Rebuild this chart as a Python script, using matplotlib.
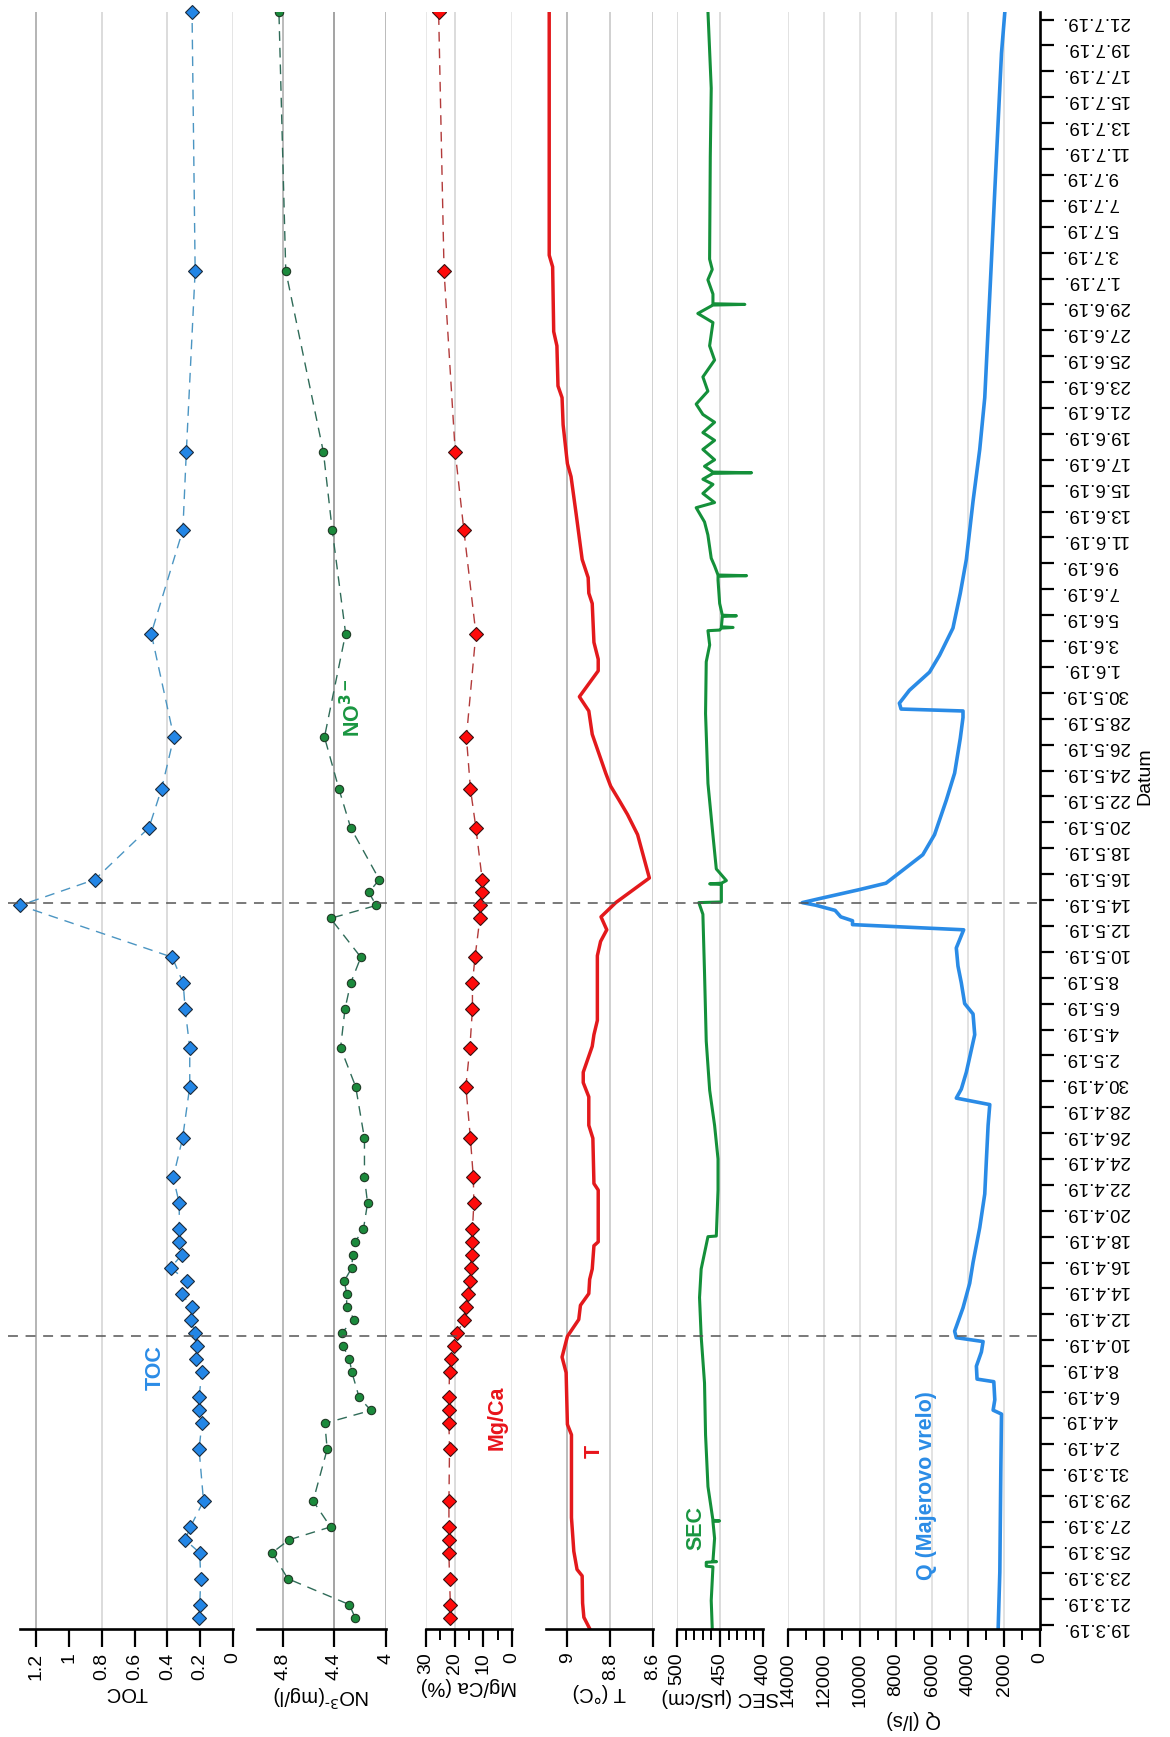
import numpy as np
import pandas as pd
import matplotlib
matplotlib.use("Agg")
import matplotlib.pyplot as plt
import matplotlib.dates as mdates
from matplotlib.ticker import FixedLocator, MultipleLocator, FuncFormatter
from matplotlib.transforms import blended_transform_factory

plt.rcParams['font.family'] = ['Liberation Sans', 'DejaVu Sans']

# ---- data ----
start = pd.Timestamp('2019-03-19')
end_sample = pd.Timestamp('2019-07-21 14:00')

# grab samples (TOC)
toc_dates = ['2019-03-19', '2019-03-20', '2019-03-22', '2019-03-24', '2019-03-25', '2019-03-26',
             '2019-03-28', '2019-04-01', '2019-04-03', '2019-04-04', '2019-04-05', '2019-04-07',
             '2019-04-08', '2019-04-09', '2019-04-10', '2019-04-11', '2019-04-12', '2019-04-13',
             '2019-04-14', '2019-04-15', '2019-04-16', '2019-04-17', '2019-04-18', '2019-04-20',
             '2019-04-22', '2019-04-25', '2019-04-29', '2019-05-02', '2019-05-05', '2019-05-07',
             '2019-05-09', '2019-05-13', '2019-05-15', '2019-05-19', '2019-05-22', '2019-05-26',
             '2019-06-03', '2019-06-11', '2019-06-17', '2019-07-01', '2019-07-21']
toc_vals = [0.207, 0.203, 0.197, 0.203, 0.292, 0.26, 0.18, 0.207, 0.19, 0.21,
            0.207, 0.19, 0.223, 0.219, 0.233, 0.257, 0.251, 0.314, 0.28, 0.381,
            0.314, 0.328, 0.328, 0.328, 0.365, 0.308, 0.264, 0.264, 0.292, 0.304,
            0.371, 1.30, 0.843, 0.513, 0.436, 0.361, 0.499, 0.306, 0.285, 0.231, 0.25]

# grab samples (NO3, Mg/Ca)
chem_dates = ['2019-03-19', '2019-03-20', '2019-03-22', '2019-03-24', '2019-03-25', '2019-03-26',
              '2019-03-28', '2019-04-01', '2019-04-03', '2019-04-04', '2019-04-05', '2019-04-07',
              '2019-04-08', '2019-04-09', '2019-04-10', '2019-04-11', '2019-04-12', '2019-04-13',
              '2019-04-14', '2019-04-15', '2019-04-16', '2019-04-17', '2019-04-18', '2019-04-20',
              '2019-04-22', '2019-04-25', '2019-04-29', '2019-05-02', '2019-05-05', '2019-05-07',
              '2019-05-09', '2019-05-12', '2019-05-13', '2019-05-14', '2019-05-15', '2019-05-19',
              '2019-05-22', '2019-05-26', '2019-06-03', '2019-06-11', '2019-06-17', '2019-07-01',
              '2019-07-21']
no3_vals = [4.24, 4.284, 4.761, 4.883, 4.753, 4.43, 4.565, 4.456, 4.474, 4.117,
            4.208, 4.266, 4.284, 4.336, 4.344, 4.245, 4.305, 4.305, 4.323, 4.266,
            4.258, 4.24, 4.175, 4.143, 4.167, 4.167, 4.235, 4.352, 4.318, 4.274,
            4.195, 4.43, 4.076, 4.133, 4.052, 4.274, 4.365, 4.477, 4.313, 4.417,
            4.485, 4.777, 4.83]
mgca_vals = [21.5, 21.5, 21.8, 22, 22, 22, 22, 21.8, 22, 22,
             22, 21.8, 21.2, 20.4, 19.1, 16.7, 16.1, 15.3, 14.5, 14.4,
             14.1, 14.0, 13.8, 13.3, 13.5, 14.5, 16.1, 14.7, 13.8, 13.8,
             12.9, 11.2, 11.2, 10.4, 10.4, 12.6, 14.5, 15.9, 12.6, 16.8,
             19.8, 23.7, 25.6]

# continuous records, days after 19.3.2019
t_day = [-0.3, 0.6, 1.7, 3.8, 4.3, 5.7, 8.3, 14.7, 15.5, 19.5,
         20.7, 22.3, 23.6, 24.7, 25.6, 26.7, 27.5, 29.3, 29.6, 33.6,
         34.1, 37.6, 38.6, 40.8, 41.9, 42.7, 44.7, 45.6, 46.7, 51.7,
         52.8, 53.7, 54.7, 55.8, 57.7, 61.05, 62.6, 63.7, 64.8, 65.8,
         68.8, 70.6, 71.7, 73.7, 74.6, 75.9, 78.9, 79.7, 80.9, 82.3,
         85.8, 88.7, 89.7, 92.7, 94.8, 95.7, 98.8, 99.9, 104.9, 105.8, 124.6]
t_vals = [8.895, 8.923, 8.929, 8.931, 8.955, 8.97, 8.981, 8.981, 9.0, 9.006,
          9.025, 9.0, 8.947, 8.939, 8.9, 8.896, 8.884, 8.876, 8.856, 8.856,
          8.876, 8.881, 8.9, 8.9, 8.926, 8.926, 8.884, 8.876, 8.86, 8.86,
          8.845, 8.816, 8.843, 8.774, 8.617, 8.672, 8.719, 8.758, 8.798, 8.821,
          8.884, 8.9, 8.944, 8.856, 8.856, 8.876, 8.884, 8.9, 8.903, 8.931,
          8.959, 8.983, 9.0, 9.02, 9.025, 9.044, 9.049, 9.064, 9.069, 9.085, 9.085]

sec_day = [-0.3, 1.9, 4.5, 4.55, 4.85, 4.9, 4.95, 6.7, 8.0, 8.05,
           8.1, 10.7, 14.7, 18.7, 22.3, 25.3, 27.5, 30.0, 30.05, 33.6,
           36, 38.6, 41.3, 45.1, 50.4, 54.9, 55.8, 55.85, 57.2, 57.25,
           57.3, 57.5, 58.4, 61, 65, 70.4, 74.4, 75.7, 76.8, 76.85,
           77.0, 77.05, 77.1, 77.9, 77.95, 78.0, 78.9, 80.7, 81.0, 81.05,
           81.1, 81.8, 82.4, 84.2, 85.2, 86.3, 86.7, 87.4, 88.1, 88.5,
           88.95, 89.0, 89.05, 89.5, 90, 90.8, 91.5, 92.1, 92.9, 93.5,
           94.3, 95.3, 96.4, 97.7, 98.8, 100.6, 101.3, 101.95, 102.0, 102.05,
           102.8, 103.9, 104.7, 105.5, 113.4, 118.7, 124.6]
sec_vals = [459, 460.2, 458.2, 466, 466, 454, 458.2, 456.3, 458.2, 450.5,
            458.2, 464, 466.8, 468, 471.9, 473.8, 471.9, 464, 454.3, 452.3,
            452.3, 456.3, 462, 466, 468, 469.9, 474.6, 448.4, 448.4, 462,
            448.4, 442.6, 454.3, 458.2, 464, 466.8, 466, 462, 464, 450.4,
            448.4, 434.8, 448.4, 447.3, 430.9, 447.3, 450.4, 452.3, 452.3, 419.1,
            452.3, 456.3, 460.2, 464.1, 468, 477.7, 456.3, 469.9, 458.2, 469.9,
            458.2, 413.3, 458.2, 468, 456.3, 469.9, 456.3, 469.9, 456.3, 469.9,
            477.7, 464.1, 469.9, 456.3, 462.1, 458.2, 475.8, 458.2, 421.1, 458.2,
            458.2, 464.1, 459, 462.1, 461.3, 460.2, 464]

q_day = [-0.3, 4.1, 12, 16.3, 16.6, 17.4, 18.8, 19.0, 20.0, 21.1,
         21.9, 22.2, 22.7, 23.2, 24.5, 26.4, 28, 30.7, 33.3, 36,
         38.6, 40.2, 40.7, 41.4, 42.7, 45.6, 47.2, 48, 49.6, 50.9,
         52.3, 53.7, 54.1, 54.4, 54.7, 55.2, 55.6, 55.8, 56.1, 56.8,
         57.3, 58.3, 59.5, 61.05, 63.7, 65.8, 68.5, 70.1, 70.6, 70.75,
         71.2, 72.2, 73.6, 74.9, 77, 79.7, 82.3, 86.8, 90.8, 94.8,
         100.1, 105.4, 110.8, 116.1, 121.4, 124.6]
q_vals = [2325, 2232, 2176, 2139, 2604, 2511, 2567, 3497, 3534, 3255,
          3162, 4650, 4743, 4613, 4278, 3906, 3720, 3348, 3069, 2976,
          2883, 2790, 4650, 4371, 4092, 3627, 3720, 4185, 4371, 4557,
          4650, 4241, 10416, 10416, 11067, 11383, 12462, 13206, 12276, 10044,
          8556, 7626, 6510, 5859, 5208, 4743, 4427, 4278, 4278, 7719,
          7812, 7254, 6138, 5580, 4836, 4427, 4092, 3720, 3348, 3069,
          2883, 2697, 2511, 2325, 2139, 1953]

event_dates = ['2019-04-10 07:00', '2019-05-13 19:00']


# ---- helpers ----
base = mdates.date2num(start)


def day_num(days):
    return base + np.asarray(days, dtype=float)


def sample_num(dates):
    return mdates.date2num(pd.to_datetime(dates) + pd.Timedelta(hours=14))


W, H = 1170, 1737
fig = plt.figure(figsize=(W / 100, H / 100), dpi=100)

ylo = day_num(-0.3)
yhi = mdates.date2num(end_sample)


def make_panel(x0, x1, xmax, xmin, ticks, grids, xlabel, minor=None):
    ax = fig.add_axes([x0 / W, 108 / H, (x1 - x0) / W, 1617 / H])
    ax.set_xlim(xmax, xmin)
    ax.set_ylim(ylo, yhi)
    for s in ['top', 'left', 'right']:
        ax.spines[s].set_visible(False)
    ax.spines['bottom'].set_linewidth(1.9)
    ax.xaxis.set_major_locator(FixedLocator(ticks))
    ax.xaxis.set_major_formatter(FuncFormatter(lambda v, p: f"{v:g}"))
    if minor:
        ax.xaxis.set_minor_locator(MultipleLocator(minor))
    ax.tick_params(axis='x', which='major', direction='out', length=13, width=1.6,
                   labelsize=14, labelrotation=90, pad=4)
    ax.tick_params(axis='x', which='minor', direction='out', length=8, width=1.4)
    ax.set_yticks([])
    for g, c in grids:
        ax.axvline(g, color=c, lw=1.1, zorder=0)
    ax.set_xlabel(xlabel, rotation=180, fontsize=14.5, labelpad=2)
    return ax


ax_toc = make_panel(20, 233, 1.3, 0, [0, 0.2, 0.4, 0.6, 0.8, 1.0, 1.2],
                    [(1.2, '#a0a0a0'), (0.8, '#d2d2d2'), (0.4, '#d2d2d2'), (0, '#dedede')], 'TOC')
ax_no3 = make_panel(257, 386, 5.0, 4.0, [4.0, 4.4, 4.8],
                    [(4.8, '#a8a8a8'), (4.4, '#8a8a8a'), (4.0, '#a8a8a8')],
                    'NO$^{3\\text{-}}$(mg/l)')
ax_mg = make_panel(426, 512, 30, 0, [0, 10, 20, 30],
                   [(30, '#e2e2e2'), (20, '#d2d2d2'), (0, '#e2e2e2')], 'Mg/Ca (%)', minor=5)
ax_t = make_panel(546, 653, 9.1, 8.6, [8.6, 8.8, 9.0],
                  [(9.0, '#a8a8a8'), (8.8, '#c4c4c4'), (8.6, '#c4c4c4')], 'T (°C)')
ax_sec = make_panel(677, 763, 500, 400, [400, 450, 500],
                    [(500, '#d2d2d2'), (450, '#d2d2d2')], 'SEC (µS/cm)', minor=10)
ax_q = make_panel(788, 1040, 14000, 0, list(range(0, 14001, 2000)),
                  [(g, '#dadada') for g in range(2000, 14001, 2000)], 'Q (l/s)', minor=1000)

# date axis on the right of the last panel
ax_q.spines['right'].set_visible(True)
ax_q.spines['right'].set_linewidth(1.9)
date_ticks = pd.date_range('2019-03-19', '2019-07-21', freq='2D')
ax_q.yaxis.tick_right()
ax_q.set_yticks(mdates.date2num(date_ticks))
ax_q.set_yticklabels([f"{d.day}.{d.month}.{d:%y}." for d in date_ticks])
ax_q.tick_params(axis='y', which='major', direction='out', length=10, width=1.6,
                 labelsize=13.5, labelrotation=180, pad=5)
fig.text(1145 / W, 1 - 776 / H, 'Datum', rotation=90, ha='center', va='center', fontsize=14)

# ---- series ----
toc_y = sample_num(toc_dates)
chem_y = sample_num(chem_dates)

ax_toc.plot(toc_vals, toc_y, ls=(0, (7, 5)), lw=1.0, color='#4b95c2', zorder=2)
ax_toc.plot(toc_vals, toc_y, ls='none', marker='D', ms=7.5, mfc='#2386e6', mec='#1c2a3a',
            mew=0.8, zorder=3, clip_on=False)
ax_no3.plot(no3_vals, chem_y, ls=(0, (7, 5)), lw=1.0, color='#2f6b58', zorder=2)
ax_no3.plot(no3_vals, chem_y, ls='none', marker='o', ms=6, mfc='#1b8a3c', mec='#1f3a25',
            mew=0.8, zorder=3)
ax_mg.plot(mgca_vals, chem_y, ls=(0, (7, 5)), lw=1.0, color='#b23a3a', zorder=2)
ax_mg.plot(mgca_vals, chem_y, ls='none', marker='D', ms=7.5, mfc='#ff0b0b', mec='#3a1010',
           mew=0.8, zorder=3)

ax_t.plot(t_vals, day_num(t_day), color='#e3191c', lw=2.5, zorder=2)
ax_sec.plot(sec_vals, day_num(sec_day), color='#14903a', lw=2.2, zorder=2)
ax_q.plot(q_vals, day_num(q_day), color='#2a8be6', lw=2.6, zorder=2)

# event lines across all panels
trans = blended_transform_factory(fig.transFigure, ax_q.transData)
for ev in mdates.date2num(pd.to_datetime(event_dates)):
    ax_q.plot([8 / W, 1040 / W], [ev, ev], transform=trans, clip_on=False,
              ls=(0, (6.5, 5)), lw=1.1, color='#555555', zorder=5)

# series labels
lab = dict(rotation=90, fontsize=15.5, fontweight='bold', ha='center', va='center')
ax_toc.text(0.476, day_num(19.9), 'TOC', color='#2b8ce6', **lab)
ax_no3.text(4.258, day_num(70.9), 'NO$^{\\mathbf{3-}}$', color='#1a9641', **lab)
ax_mg.text(5.3, day_num(16), 'Mg/Ca', color='#e8141b', **lab)
ax_t.text(8.873, day_num(13.4), 'T', color='#e8141b', **lab)
ax_sec.text(477.8, day_num(7.5), 'SEC', color='#1a9641', **lab)
ax_q.text(6300, day_num(10.8), 'Q (Majerovo vrelo)', color='#2b8ce6', **lab)

fig.savefig('out.png', dpi=100)
